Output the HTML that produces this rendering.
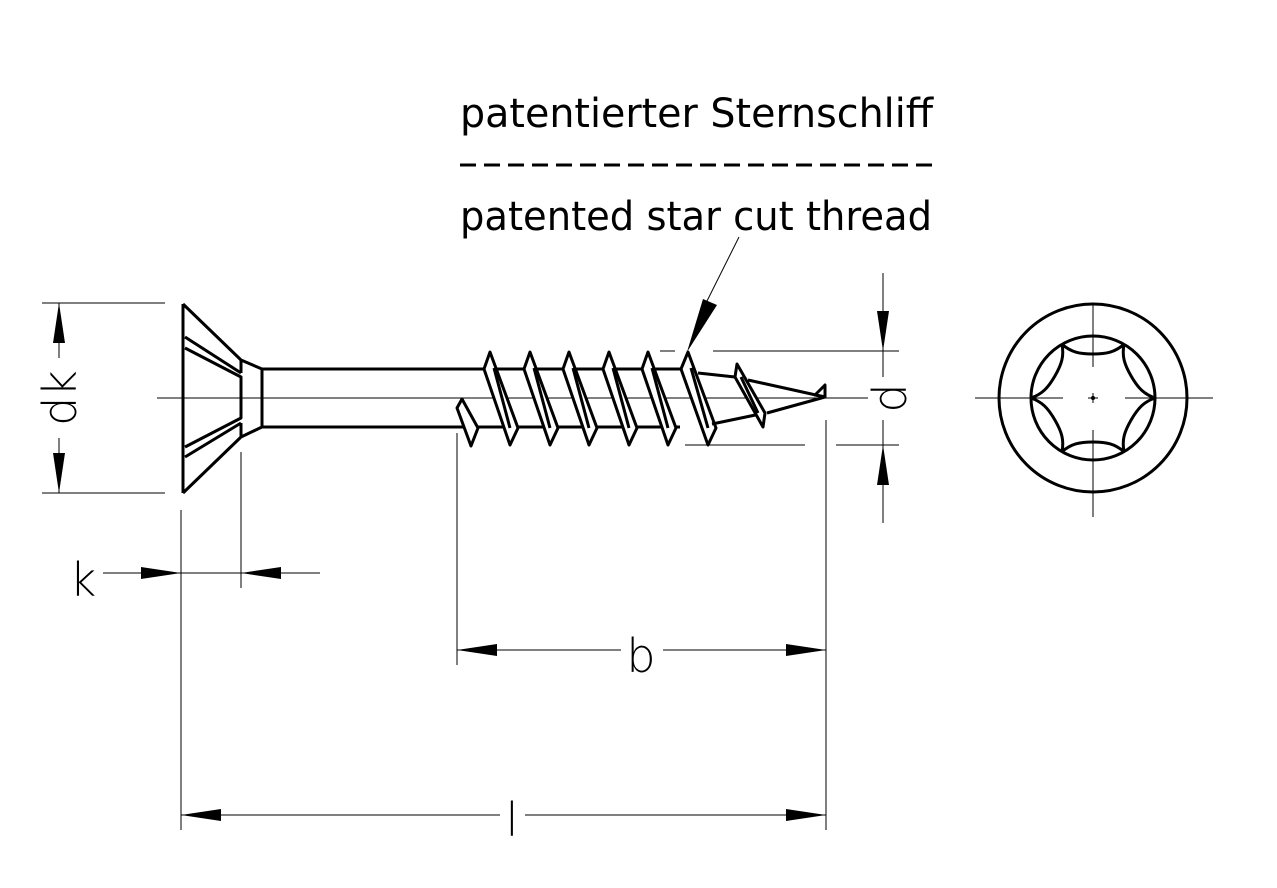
<!DOCTYPE html>
<html><head><meta charset="utf-8"><style>
html,body{margin:0;padding:0;background:#fff;}
svg{display:block;}
text{font-family:"DejaVu Sans","Liberation Sans",sans-serif;fill:#000;}
</style></head><body>
<svg width="1277" height="888" viewBox="0 0 1277 888" xmlns="http://www.w3.org/2000/svg">
<defs>
<path id="bump" d="M -31,-53.7 C -22,-46 -14,-44 0,-44 C 14,-44 22,-46 31,-53.7" fill="none" stroke="#000" stroke-width="3"/>
</defs>
<text x="460" y="127" font-size="40" textLength="473" lengthAdjust="spacingAndGlyphs">patentierter Sternschliff</text>
<line x1="460" y1="165" x2="940" y2="165" stroke="#000" stroke-width="3" stroke-dasharray="16,8"/>
<text x="460" y="230" font-size="40" textLength="472" lengthAdjust="spacingAndGlyphs">patented star cut thread</text>
<line x1="739" y1="237" x2="705" y2="305" stroke="#000" stroke-width="1"/>
<polygon points="687,352 703,299 717,305" fill="#000"/>

<g stroke="#000" fill="none" stroke-linejoin="round">
<line x1="157" y1="398" x2="860" y2="398" stroke-width="1"/>
<g stroke-width="3">
<line x1="183" y1="304" x2="183" y2="493"/>
<polyline points="183,304 241,360 262,369 262,427 241,437 183,493"/>
<line x1="241" y1="360" x2="241" y2="373"/>
<line x1="241" y1="423" x2="241" y2="437"/>
<line x1="185" y1="337" x2="241" y2="373"/>
<polyline points="185,348 241,377 241,418 185,447"/>
<line x1="185" y1="457" x2="241" y2="423"/>
<line x1="262" y1="369" x2="484" y2="369"/>
<line x1="262" y1="427" x2="680" y2="427"/>
<line x1="484" y1="369" x2="681" y2="369"/>
<polygon points="457,408 462,399 478,428 471,446" fill="#fff"/>
<g fill="#fff">
<polygon points="484,369 490,352 518,428 510,445"/>
<polygon points="524,369 530,352 558,428 550,445"/>
<polygon points="563,369 569,352 597,428 589,445"/>
<polygon points="603,369 609,352 637,428 629,445"/>
<polygon points="642,369 648,352 676,428 668,445"/>
<polygon points="681,369 688,352 716,428 708,445"/>
</g>
<line x1="494" y1="368" x2="510" y2="428"/>
<line x1="534" y1="368" x2="550" y2="428"/>
<line x1="573" y1="368" x2="589" y2="428"/>
<line x1="613" y1="368" x2="629" y2="428"/>
<line x1="652" y1="368" x2="668" y2="428"/>
<line x1="691" y1="368" x2="708" y2="428"/>
<polyline points="698,373 735,377"/>
<polyline points="712,424 765,413"/>
<polygon points="735,377 737,364 765,413 763,427" fill="#fff"/>
<line x1="741" y1="377" x2="758" y2="413"/>
<line x1="748" y1="380" x2="825" y2="397"/>
<line x1="767" y1="413" x2="825" y2="397"/>
<polygon points="825,385 825,397 815,395"/>
</g>

<g stroke-width="1">
<line x1="42" y1="303" x2="165" y2="303"/>
<line x1="42" y1="493" x2="165" y2="493"/>
<line x1="59" y1="303" x2="59" y2="358"/>
<line x1="59" y1="438" x2="59" y2="493"/>
<line x1="181" y1="510" x2="181" y2="830"/>
<line x1="241" y1="452" x2="241" y2="588"/>
<line x1="103" y1="573" x2="320" y2="573"/>
<line x1="457" y1="433" x2="457" y2="665"/>
<line x1="826" y1="420" x2="826" y2="830"/>
<line x1="457" y1="650" x2="621" y2="650"/>
<line x1="663" y1="650" x2="826" y2="650"/>
<line x1="181" y1="815" x2="500" y2="815"/>
<line x1="525" y1="815" x2="826" y2="815"/>
<line x1="660" y1="351" x2="675" y2="351"/>
<line x1="713" y1="351" x2="899" y2="351"/>
<line x1="685" y1="445" x2="805" y2="445"/>
<line x1="836" y1="445" x2="899" y2="445"/>
<line x1="883" y1="273" x2="883" y2="377"/>
<line x1="883" y1="420" x2="883" y2="523"/>
<line x1="858" y1="398" x2="868" y2="398"/>
</g>
</g>
<g fill="#000">
<polygon points="59,303 53,343 65,343"/>
<polygon points="59,493 53,453 65,453"/>
<polygon points="181,573 141,567 141,579"/>
<polygon points="241,573 281,567 281,579"/>
<polygon points="457,650 497,644 497,656"/>
<polygon points="826,650 786,644 786,656"/>
<polygon points="181,815 221,809 221,821"/>
<polygon points="826,815 786,809 786,821"/>
<polygon points="883,351 877,311 889,311"/>
<polygon points="883,445 877,485 889,485"/>
</g>
<g font-size="46" font-weight="200">
<text transform="translate(76,398) rotate(-90)" text-anchor="middle">dk</text>
<text x="83" y="596" text-anchor="middle">k</text>
<text x="641" y="672" text-anchor="middle">b</text>
<text x="512" y="836" text-anchor="middle">l</text>
<text transform="translate(906,398) rotate(-90)" text-anchor="middle">d</text>
</g>

<g stroke="#000" fill="none">
<circle cx="1093" cy="398" r="94" stroke-width="3"/>
<circle cx="1093" cy="398" r="62" stroke-width="3"/>
<g transform="translate(1093,398)">
<use href="#bump"/>
<use href="#bump" transform="rotate(60)"/>
<use href="#bump" transform="rotate(120)"/>
<use href="#bump" transform="rotate(180)"/>
<use href="#bump" transform="rotate(240)"/>
<use href="#bump" transform="rotate(300)"/>
</g>
<g stroke-width="1">
<line x1="975" y1="398" x2="1063" y2="398"/>
<line x1="1088" y1="398" x2="1098" y2="398"/>
<line x1="1125" y1="398" x2="1213" y2="398"/>
<line x1="1093" y1="303" x2="1093" y2="367"/>
<line x1="1093" y1="393" x2="1093" y2="403"/>
<line x1="1093" y1="430" x2="1093" y2="517"/>
</g>
<circle cx="1093" cy="398" r="1.5" fill="#000"/>
</g>
</svg>
</body></html>
